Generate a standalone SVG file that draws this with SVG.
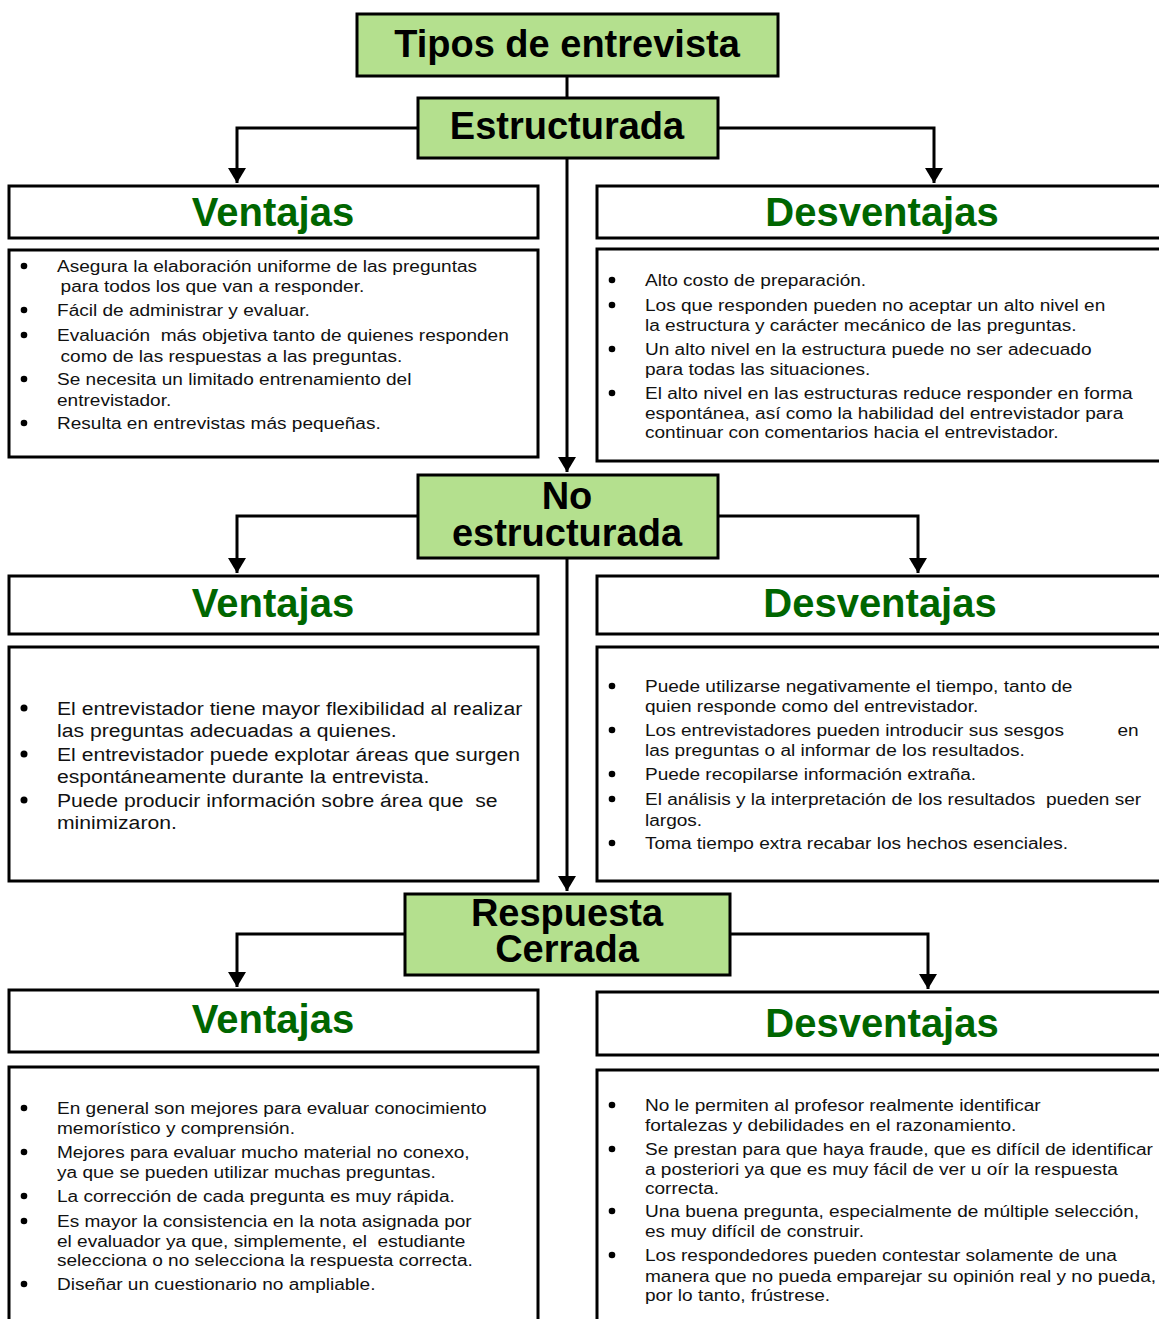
<svg xmlns="http://www.w3.org/2000/svg" width="1159" height="1319" viewBox="0 0 1159 1319">
  <style>
    .node { fill: #b4e08e; stroke: #000; stroke-width: 3; }
    .box { fill: #fff; stroke: #000; stroke-width: 3; }
    .head { font-family: "Liberation Sans", Arial, sans-serif; font-weight: bold; font-size: 38px; fill: #000; text-anchor: middle; }
    .hdr { font-family: "Liberation Sans", Arial, sans-serif; font-weight: bold; font-size: 40px; fill: #006600; text-anchor: middle; }
    .body { font-family: "Liberation Sans", Arial, sans-serif; font-size: 16px; fill: #111; }
    .body18 { font-family: "Liberation Sans", Arial, sans-serif; font-size: 18px; fill: #111; }
    .link { fill: none; stroke: #000; stroke-width: 3; }
    .dot { fill: #000; }
  </style>
  <defs>
    <marker id="arrow" markerWidth="6" markerHeight="6" refX="5" refY="3" orient="auto" markerUnits="strokeWidth">
      <path d="M0,0 L5,3 L0,6 Z" fill="#000"/>
    </marker>
  </defs>

  <!-- connectors -->
  <g id="connectors">
    <path class="link" d="M567,76 V98"/>
    <path class="link" d="M567,158 V472" marker-end="url(#arrow)"/>
    <path class="link" d="M567,558 V891" marker-end="url(#arrow)"/>
    <path class="link" d="M418,128 H237 V183" marker-end="url(#arrow)"/>
    <path class="link" d="M718,128 H934 V183" marker-end="url(#arrow)"/>
    <path class="link" d="M418,516 H237 V573" marker-end="url(#arrow)"/>
    <path class="link" d="M718,516 H918 V573" marker-end="url(#arrow)"/>
    <path class="link" d="M405,934 H237 V987" marker-end="url(#arrow)"/>
    <path class="link" d="M730,934 H928 V989" marker-end="url(#arrow)"/>
  </g>

  <!-- main nodes -->
  <g id="tipos">
    <rect class="node" x="357" y="14" width="421" height="62"/>
    <text class="head" x="567" y="57">Tipos de entrevista</text>
  </g>
  <g id="estructurada">
    <rect class="node" x="418" y="98" width="300" height="60"/>
    <text class="head" x="567" y="139">Estructurada</text>
  </g>
  <g id="no-estructurada">
    <rect class="node" x="418" y="475" width="300" height="83"/>
    <text class="head" x="567" y="509">No</text>
    <text class="head" x="567" y="546">estructurada</text>
  </g>
  <g id="respuesta-cerrada">
    <rect class="node" x="405" y="894" width="325" height="81"/>
    <text class="head" x="567" y="926">Respuesta</text>
    <text class="head" x="567" y="962">Cerrada</text>
  </g>

  <!-- Estructurada: ventajas -->
  <g id="ventajas-1">
    <rect class="box" x="9" y="186" width="529" height="52"/>
    <text class="hdr" x="273" y="226">Ventajas</text>
  </g>
  <g id="ventajas-1-lista">
    <rect class="box" x="9" y="250" width="529" height="207"/>
    <circle class="dot" cx="24" cy="266" r="3.3"/>
    <circle class="dot" cx="24" cy="310" r="3.3"/>
    <circle class="dot" cx="24" cy="335" r="3.3"/>
    <circle class="dot" cx="24" cy="379" r="3.3"/>
    <circle class="dot" cx="24" cy="423" r="3.3"/>
    <g transform="translate(57,1) scale(1.19,1)">
      <text class="body" x="0" y="271">Asegura la elaboración uniforme de las preguntas</text>
      <text class="body" x="3" y="291">para todos los que van a responder.</text>
      <text class="body" x="0" y="315">Fácil de administrar y evaluar.</text>
      <text class="body" x="0" y="340" xml:space="preserve">Evaluación  más objetiva tanto de quienes responden</text>
      <text class="body" x="3" y="361">como de las respuestas a las preguntas.</text>
      <text class="body" x="0" y="384">Se necesita un limitado entrenamiento del</text>
      <text class="body" x="0" y="405">entrevistador.</text>
      <text class="body" x="0" y="428">Resulta en entrevistas más pequeñas.</text>
    </g>
  </g>

  <!-- Estructurada: desventajas -->
  <g id="desventajas-1">
    <rect class="box" x="597" y="186" width="580" height="52"/>
    <text class="hdr" x="882" y="226">Desventajas</text>
  </g>
  <g id="desventajas-1-lista">
    <rect class="box" x="597" y="249" width="580" height="212"/>
    <circle class="dot" cx="612" cy="280" r="3.3"/>
    <circle class="dot" cx="612" cy="305" r="3.3"/>
    <circle class="dot" cx="612" cy="349" r="3.3"/>
    <circle class="dot" cx="612" cy="393" r="3.3"/>
    <g transform="translate(645,1) scale(1.19,1)">
      <text class="body" x="0" y="285">Alto costo de preparación.</text>
      <text class="body" x="0" y="310">Los que responden pueden no aceptar un alto nivel en</text>
      <text class="body" x="0" y="330">la estructura y carácter mecánico de las preguntas.</text>
      <text class="body" x="0" y="354">Un alto nivel en la estructura puede no ser adecuado</text>
      <text class="body" x="0" y="374">para todas las situaciones.</text>
      <text class="body" x="0" y="398">El alto nivel en las estructuras reduce responder en forma</text>
      <text class="body" x="0" y="418">espontánea, así como la habilidad del entrevistador para</text>
      <text class="body" x="0" y="437">continuar con comentarios hacia el entrevistador.</text>
    </g>
  </g>

  <!-- No estructurada: ventajas -->
  <g id="ventajas-2">
    <rect class="box" x="9" y="576" width="529" height="58"/>
    <text class="hdr" x="273" y="617">Ventajas</text>
  </g>
  <g id="ventajas-2-lista">
    <rect class="box" x="9" y="647" width="529" height="234"/>
    <circle class="dot" cx="24" cy="708" r="3.5"/>
    <circle class="dot" cx="24" cy="754" r="3.5"/>
    <circle class="dot" cx="24" cy="800" r="3.5"/>
    <g transform="translate(57,1) scale(1.175,1)">
      <text class="body18" x="0" y="714">El entrevistador tiene mayor flexibilidad al realizar</text>
      <text class="body18" x="0" y="736">las preguntas adecuadas a quienes.</text>
      <text class="body18" x="0" y="760">El entrevistador puede explotar áreas que surgen</text>
      <text class="body18" x="0" y="782">espontáneamente durante la entrevista.</text>
      <text class="body18" x="0" y="806" xml:space="preserve">Puede producir información sobre área que  se</text>
      <text class="body18" x="0" y="828">minimizaron.</text>
    </g>
  </g>

  <!-- No estructurada: desventajas -->
  <g id="desventajas-2">
    <rect class="box" x="597" y="576" width="580" height="58"/>
    <text class="hdr" x="880" y="617">Desventajas</text>
  </g>
  <g id="desventajas-2-lista">
    <rect class="box" x="597" y="647" width="580" height="234"/>
    <circle class="dot" cx="612" cy="686" r="3.3"/>
    <circle class="dot" cx="612" cy="730" r="3.3"/>
    <circle class="dot" cx="612" cy="774" r="3.3"/>
    <circle class="dot" cx="612" cy="799" r="3.3"/>
    <circle class="dot" cx="612" cy="843" r="3.3"/>
    <g transform="translate(645,1) scale(1.19,1)">
      <text class="body" x="0" y="691">Puede utilizarse negativamente el tiempo, tanto de</text>
      <text class="body" x="0" y="711">quien responde como del entrevistador.</text>
      <text class="body" x="0" y="735">Los entrevistadores pueden introducir sus sesgos<tspan x="397">en</tspan></text>
      <text class="body" x="0" y="755">las preguntas o al informar de los resultados.</text>
      <text class="body" x="0" y="779">Puede recopilarse información extraña.</text>
      <text class="body" x="0" y="804" xml:space="preserve">El análisis y la interpretación de los resultados  pueden ser</text>
      <text class="body" x="0" y="825">largos.</text>
      <text class="body" x="0" y="848">Toma tiempo extra recabar los hechos esenciales.</text>
    </g>
  </g>

  <!-- Respuesta cerrada: ventajas -->
  <g id="ventajas-3">
    <rect class="box" x="9" y="990" width="529" height="62"/>
    <text class="hdr" x="273" y="1033">Ventajas</text>
  </g>
  <g id="ventajas-3-lista">
    <rect class="box" x="9" y="1067" width="529" height="270"/>
    <circle class="dot" cx="24" cy="1108" r="3.3"/>
    <circle class="dot" cx="24" cy="1152" r="3.3"/>
    <circle class="dot" cx="24" cy="1196" r="3.3"/>
    <circle class="dot" cx="24" cy="1221" r="3.3"/>
    <circle class="dot" cx="24" cy="1284" r="3.3"/>
    <g transform="translate(57,1) scale(1.19,1)">
      <text class="body" x="0" y="1113">En general son mejores para evaluar conocimiento</text>
      <text class="body" x="0" y="1133">memorístico y comprensión.</text>
      <text class="body" x="0" y="1157">Mejores para evaluar mucho material no conexo,</text>
      <text class="body" x="0" y="1177">ya que se pueden utilizar muchas preguntas.</text>
      <text class="body" x="0" y="1201">La corrección de cada pregunta es muy rápida.</text>
      <text class="body" x="0" y="1226">Es mayor la consistencia en la nota asignada por</text>
      <text class="body" x="0" y="1246" xml:space="preserve">el evaluador ya que, simplemente, el  estudiante</text>
      <text class="body" x="0" y="1265">selecciona o no selecciona la respuesta correcta.</text>
      <text class="body" x="0" y="1289">Diseñar un cuestionario no ampliable.</text>
    </g>
  </g>

  <!-- Respuesta cerrada: desventajas -->
  <g id="desventajas-3">
    <rect class="box" x="597" y="992" width="580" height="63"/>
    <text class="hdr" x="882" y="1037">Desventajas</text>
  </g>
  <g id="desventajas-3-lista">
    <rect class="box" x="597" y="1070" width="580" height="270"/>
    <circle class="dot" cx="612" cy="1105" r="3.3"/>
    <circle class="dot" cx="612" cy="1149" r="3.3"/>
    <circle class="dot" cx="612" cy="1211" r="3.3"/>
    <circle class="dot" cx="612" cy="1255" r="3.3"/>
    <g transform="translate(645,1) scale(1.19,1)">
      <text class="body" x="0" y="1110">No le permiten al profesor realmente identificar</text>
      <text class="body" x="0" y="1130">fortalezas y debilidades en el razonamiento.</text>
      <text class="body" x="0" y="1154">Se prestan para que haya fraude, que es difícil de identificar</text>
      <text class="body" x="0" y="1174">a posteriori ya que es muy fácil de ver u oír la respuesta</text>
      <text class="body" x="0" y="1193">correcta.</text>
      <text class="body" x="0" y="1216">Una buena pregunta, especialmente de múltiple selección,</text>
      <text class="body" x="0" y="1236">es muy difícil de construir.</text>
      <text class="body" x="0" y="1260">Los respondedores pueden contestar solamente de una</text>
      <text class="body" x="0" y="1281">manera que no pueda emparejar su opinión real y no pueda,</text>
      <text class="body" x="0" y="1300">por lo tanto, frústrese.</text>
    </g>
  </g>
</svg>
